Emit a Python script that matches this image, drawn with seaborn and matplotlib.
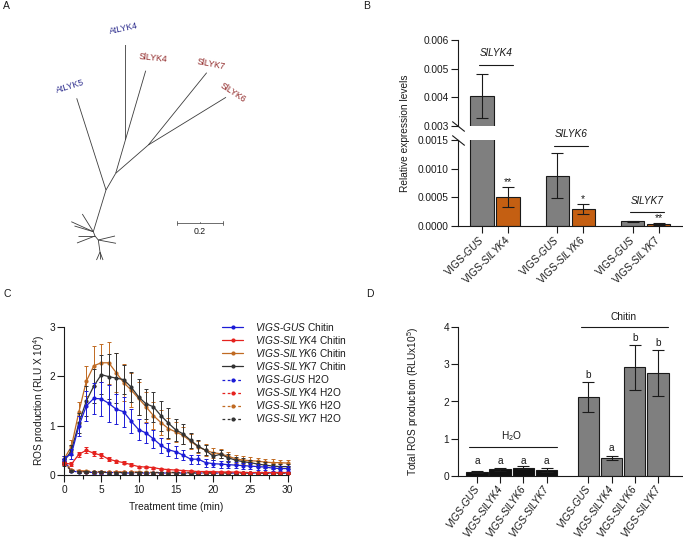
import numpy as np
import pandas as pd
import matplotlib
matplotlib.use("Agg")
import matplotlib.pyplot as plt
from matplotlib.lines import Line2D
from matplotlib.collections import LineCollection
from matplotlib.ticker import FixedLocator, MultipleLocator, StrMethodFormatter
import seaborn as sns

# ---------------- DATA ----------------
# Panel A: unrooted tree (node coordinates in panel pixels) and labels
tree_nodes = {
    'AtLYK4': (125.6, 45), 'SlLYK4': (145.7, 70.7), 'n1': (125.4, 140), 'n2': (115.7, 173.3),
    'SlLYK7': (206.7, 72.7), 'SlLYK6': (226.0, 97.3), 'n3': (148.3, 145),
    'AtLYK5': (76.7, 98.3), 'n4': (106.0, 190), 'n5': (93.3, 231.7),
    'o1': (82.3, 214), 'o2': (71.3, 221.7), 'o3': (74.5, 226), 'n6': (95.0, 236),
    'o4': (78.0, 236), 'o5': (77.0, 243), 'n7': (98.3, 240), 'o6': (115.0, 236),
    'o7': (116.0, 243.3), 'n8': (100.0, 252), 'o8': (96.5, 260), 'o9': (103.0, 260), 'o10': (100.0, 259),
}
tree_edges = [('AtLYK4', 'n1'), ('SlLYK4', 'n1'), ('n1', 'n2'), ('SlLYK7', 'n3'), ('SlLYK6', 'n3'),
              ('n3', 'n2'), ('n2', 'n4'), ('AtLYK5', 'n4'), ('n4', 'n5'), ('n5', 'o1'), ('n5', 'o2'),
              ('n5', 'o3'), ('n5', 'n6'), ('n6', 'o4'), ('n6', 'o5'), ('n6', 'n7'), ('n7', 'o6'),
              ('n7', 'o7'), ('n7', 'n8'), ('n8', 'o8'), ('n8', 'o9'), ('n8', 'o10')]
tree_labels = ['AtLYK4', 'AtLYK5', 'SlLYK4', 'SlLYK7', 'SlLYK6']
tree_label_xy = [(123.3, 29), (70, 86), (153.3, 58), (211, 64), (232.7, 92.5)]
tree_label_rot = [12, 17, -6, -11, -33]
scale_value = 0.2
scale_px_per_unit = 227

# Panel B: relative expression
b_ticklabels = [r'VIGS-$\mathit{GUS}$', r'VIGS-$\mathit{SlLYK4}$', r'VIGS-$\mathit{GUS}$',
                r'VIGS-$\mathit{SlLYK6}$', r'VIGS-$\mathit{GUS}$', r'VIGS-$\mathit{SlLYK7}$']
b_kind = ['control', 'silenced', 'control', 'silenced', 'control', 'silenced']
b_values = [0.00405, 0.00051, 0.00088, 0.00030, 0.00008, 0.00003]
b_err = [0.00078, 0.00017, 0.00039, 0.00009, 0.00001, 0.00002]
b_sig = ['', '**', '', '*', '', '**']
b_groups = ['SlLYK4', 'SlLYK6', 'SlLYK7']
b_top_ticks = [0.003, 0.004, 0.005, 0.006]
b_bot_ticks = [0.0, 0.0005, 0.0010, 0.0015]

# Panel C: ROS kinetics
times = list(range(31))
gus_chitin = [0.33, 0.43, 0.99, 1.40, 1.55, 1.54, 1.45, 1.33, 1.28, 1.09, 0.92, 0.85, 0.73, 0.60, 0.51, 0.47,
              0.40, 0.32, 0.32, 0.25, 0.23, 0.22, 0.21, 0.20, 0.19, 0.18, 0.17, 0.16, 0.14, 0.13, 0.13]
gus_chitin_err = [0.05, 0.10, 0.20, 0.30, 0.32, 0.35, 0.38, 0.30, 0.30, 0.25, 0.22, 0.20, 0.18, 0.15, 0.13, 0.12,
                  0.10, 0.09, 0.09, 0.08, 0.07, 0.07, 0.07, 0.06, 0.06, 0.06, 0.06, 0.05, 0.05, 0.05, 0.05]
lyk4_chitin = [0.24, 0.22, 0.42, 0.50, 0.44, 0.40, 0.32, 0.28, 0.25, 0.21, 0.17, 0.16, 0.15, 0.12, 0.11, 0.10,
               0.09, 0.08, 0.07, 0.07, 0.07, 0.06, 0.06, 0.06, 0.05, 0.05, 0.05, 0.05, 0.05, 0.05, 0.05]
lyk4_chitin_err = [0.03, 0.04, 0.05, 0.06, 0.05, 0.05, 0.04, 0.03, 0.03, 0.03, 0.02, 0.02, 0.02, 0.02, 0.02, 0.02,
                   0.02, 0.02, 0.02, 0.02, 0.02, 0.02, 0.02, 0.02, 0.02, 0.02, 0.02, 0.02, 0.02, 0.02, 0.02]
lyk6_chitin = [0.32, 0.58, 1.28, 1.90, 2.21, 2.27, 2.27, 2.07, 1.87, 1.72, 1.55, 1.38, 1.20, 1.06, 0.94, 0.87,
               0.80, 0.68, 0.57, 0.50, 0.45, 0.43, 0.38, 0.33, 0.30, 0.29, 0.28, 0.26, 0.25, 0.25, 0.24]
lyk6_chitin_err = [0.06, 0.12, 0.20, 0.30, 0.40, 0.38, 0.43, 0.40, 0.38, 0.35, 0.33, 0.30, 0.27, 0.25, 0.22, 0.20,
                   0.18, 0.15, 0.12, 0.12, 0.10, 0.09, 0.09, 0.08, 0.08, 0.07, 0.07, 0.07, 0.07, 0.06, 0.06]
lyk7_chitin = [0.27, 0.50, 1.05, 1.50, 1.80, 2.03, 1.99, 1.96, 1.93, 1.78, 1.58, 1.44, 1.38, 1.20, 1.05, 0.91,
               0.83, 0.70, 0.58, 0.50, 0.38, 0.42, 0.35, 0.30, 0.27, 0.25, 0.22, 0.20, 0.18, 0.17, 0.17]
lyk7_chitin_err = [0.05, 0.10, 0.20, 0.30, 0.35, 0.40, 0.45, 0.50, 0.30, 0.30, 0.36, 0.30, 0.30, 0.30, 0.30, 0.22,
                   0.20, 0.15, 0.12, 0.10, 0.08, 0.08, 0.08, 0.07, 0.07, 0.06, 0.06, 0.06, 0.05, 0.05, 0.05]
gus_h2o = [0.30, 0.08, 0.06, 0.06, 0.05, 0.05, 0.05, 0.05, 0.04, 0.04, 0.04, 0.04, 0.04, 0.04, 0.04, 0.04,
           0.04, 0.04, 0.04, 0.04, 0.04, 0.04, 0.04, 0.04, 0.04, 0.04, 0.04, 0.04, 0.04, 0.04, 0.04]
lyk4_h2o = [0.24, 0.10, 0.08, 0.07, 0.07, 0.06, 0.06, 0.06, 0.06, 0.06, 0.05, 0.05, 0.05, 0.05, 0.05, 0.05,
            0.05, 0.05, 0.05, 0.05, 0.05, 0.05, 0.05, 0.05, 0.05, 0.05, 0.04, 0.04, 0.04, 0.04, 0.04]
lyk6_h2o = [0.26, 0.11, 0.09, 0.08, 0.07, 0.07, 0.06, 0.06, 0.06, 0.06, 0.06, 0.06, 0.05, 0.05, 0.05, 0.05,
            0.05, 0.05, 0.05, 0.05, 0.05, 0.05, 0.05, 0.05, 0.05, 0.05, 0.05, 0.05, 0.05, 0.05, 0.05]
lyk7_h2o = [0.22, 0.09, 0.07, 0.06, 0.06, 0.06, 0.05, 0.05, 0.05, 0.05, 0.05, 0.05, 0.05, 0.05, 0.05, 0.05,
            0.05, 0.04, 0.04, 0.04, 0.04, 0.04, 0.04, 0.04, 0.04, 0.04, 0.04, 0.04, 0.04, 0.04, 0.04]
h2o_err = [0.03, 0.02, 0.02, 0.02, 0.02, 0.02, 0.02, 0.02, 0.02, 0.02, 0.02, 0.02, 0.02, 0.02, 0.02, 0.02,
           0.02, 0.02, 0.02, 0.02, 0.02, 0.02, 0.02, 0.02, 0.02, 0.02, 0.02, 0.02, 0.02, 0.02, 0.02]
c_genotypes = ['GUS', 'SlLYK4', 'SlLYK6', 'SlLYK7']

# Panel D: total ROS
d_ticklabels = ['VIGS-GUS', 'VIGS-SlLYK4', 'VIGS-SlLYK6', 'VIGS-SlLYK7'] * 2
d_treatment = ['H2O'] * 4 + ['Chitin'] * 4
d_h2o = [0.10, 0.17, 0.22, 0.16]
d_h2o_err = [0.03, 0.03, 0.03, 0.05]
d_chitin = [2.12, 0.48, 2.92, 2.76]
d_chitin_err = [0.40, 0.06, 0.61, 0.62]
d_letters = ['a', 'a', 'a', 'a', 'b', 'a', 'b', 'b']

# ---------------- STYLE ----------------
sns.set_theme(style="ticks")
ink = '#1a1a1a'
FS = 7.3
plt.rcParams.update({
    'font.family': ['Liberation Sans', 'DejaVu Sans'],
    'mathtext.fontset': 'custom',
    'mathtext.rm': 'Liberation Sans',
    'mathtext.it': 'Liberation Sans:italic',
    'mathtext.bf': 'Liberation Sans:bold',
    'mathtext.sf': 'Liberation Sans',
    'font.size': FS, 'axes.labelsize': FS, 'xtick.labelsize': FS, 'ytick.labelsize': FS,
    'legend.fontsize': FS,
    'axes.linewidth': 0.8, 'axes.edgecolor': ink, 'text.color': ink, 'axes.labelcolor': ink,
    'xtick.color': ink, 'ytick.color': ink,
    'xtick.major.size': 5, 'ytick.major.size': 5, 'xtick.major.width': 0.8, 'ytick.major.width': 0.8,
    'xtick.minor.size': 3, 'xtick.minor.width': 0.8,
    'xtick.major.pad': 2, 'ytick.major.pad': 1.5,
})

W, H = 683, 542
fig = plt.figure(figsize=(W / 100, H / 100), dpi=100)


def add_axes_px(l, t, r, b):
    return fig.add_axes([l / W, 1 - b / H, (r - l) / W, (b - t) / H])


def fxy(x, y):
    return (x / W, 1 - y / H)


# panel letters
for letter, (x, y) in zip('ABCD', [(3, 1), (363, 1), (3, 289), (366, 289)]):
    fig.text(*fxy(x, y), letter, fontsize=7.5, ha='left', va='top')

# ---------------- PANEL A ----------------
axA = add_axes_px(0, 0, 340, 270)
axA.set_xlim(0, 340)
axA.set_ylim(270, 0)
axA.axis('off')
segs = [[tree_nodes[a], tree_nodes[b]] for a, b in tree_edges]
axA.add_collection(LineCollection(segs, colors='#3c3c3c', linewidths=0.6))
for lab, (x, y), rot in zip(tree_labels, tree_label_xy, tree_label_rot):
    col = '#2e2e8e' if lab.startswith('At') else '#8e2424'
    axA.text(x, y, lab, color=col, fontsize=6.3, rotation=rot, ha='center', va='center',
             rotation_mode='anchor')
sx0, sy = 177.3, 222.7
sx1 = sx0 + scale_value * scale_px_per_unit
axA.plot([sx0, sx1], [sy, sy], color='#555555', lw=0.6)
for xx in (sx0, (sx0 + sx1) / 2, sx1):
    axA.plot([xx, xx], [sy - 1.8, sy + 1.8] if xx != (sx0 + sx1) / 2 else [sy - 1, sy],
             color='#555555', lw=0.6)
axA.text((sx0 + sx1) / 2, sy + 4, f'{scale_value}', fontsize=6.3, ha='center', va='top')

# ---------------- PANEL B ----------------
b_pos = []
for g in range(len(b_groups)):
    b_pos += [g * 2.9, g * 2.9 + 1]
df_b = pd.DataFrame({'pos': b_pos, 'value': b_values, 'kind': b_kind})
b_pal = {'control': '#7f7f7f', 'silenced': '#c45f12'}
axBt = add_axes_px(458, 40, 682, 126)
axBb = add_axes_px(458, 140, 682, 226)
for ax in (axBt, axBb):
    sns.barplot(data=df_b, x='pos', y='value', hue='kind', palette=b_pal, native_scale=True,
                dodge=False, width=0.9, saturation=1, edgecolor=ink, linewidth=0.8,
                errorbar=None, legend=False, orient='x', ax=ax)
    ax.errorbar(b_pos, b_values, yerr=b_err, fmt='none', ecolor=ink, elinewidth=0.8,
                capsize=4.5, capthick=0.8, zorder=5)
    ax.set_xlim(-0.92, 7.7)
    ax.set_xlabel('')
    ax.set_ylabel('')
    sns.despine(ax=ax)
axBt.set_ylim(0.003, 0.006)
axBt.spines['bottom'].set_visible(False)
axBt.tick_params(axis='x', bottom=False, labelbottom=False)
axBt.yaxis.set_major_locator(FixedLocator(b_top_ticks))
axBt.yaxis.set_major_formatter(StrMethodFormatter('{x:.3f}'))
axBb.set_ylim(0, 0.0015)
axBb.yaxis.set_major_locator(FixedLocator(b_bot_ticks))
axBb.yaxis.set_major_formatter(StrMethodFormatter('{x:.4f}'))
axBb.set_xticks(b_pos)
axBb.set_xticklabels(b_ticklabels, rotation=45, ha='right', va='center', rotation_mode='anchor')
axBb.tick_params(axis='x', pad=3)
# axis break marks
brk = dict(marker=[(-1, 0.8), (1, -0.8)], markersize=9, linestyle='none', color=ink, mec=ink,
           mew=0.8, clip_on=False)
axBt.plot([0], [0], transform=axBt.transAxes, **brk)
axBb.plot([0], [1], transform=axBb.transAxes, **brk)
fig.text(*fxy(405, 133), 'Relative expression levels', rotation=90, ha='center', va='center')
# group annotations
b_line_y = [(axBt, 0.00513, 0.00555), (axBb, 0.001395, 0.0016), (axBb, 0.000244, 0.000436)]
for g, (ax, ly, ty) in zip(range(3), b_line_y):
    x0, x1 = b_pos[2 * g], b_pos[2 * g + 1]
    ax.plot([x0 - 0.12, x1 + 0.2], [ly, ly], color=ink, lw=0.8, clip_on=False)
    ax.text((x0 + x1) / 2 + 0.04, ty, b_groups[g], fontstyle='italic', ha='center', va='center',
            clip_on=False)
for x, v, e, s in zip(b_pos, b_values, b_err, b_sig):
    if s:
        axBb.text(x, v + e, s, ha='center', va='bottom', fontsize=7.5)

# ---------------- PANEL C ----------------
axC = add_axes_px(64, 326.7, 287.7, 475)
c_colors = {'GUS': '#1c1cd6', 'SlLYK4': '#e5221e', 'SlLYK6': '#c06a22', 'SlLYK7': '#333333'}
chitin_vals = {'GUS': (gus_chitin, gus_chitin_err), 'SlLYK4': (lyk4_chitin, lyk4_chitin_err),
               'SlLYK6': (lyk6_chitin, lyk6_chitin_err), 'SlLYK7': (lyk7_chitin, lyk7_chitin_err)}
h2o_vals = {'GUS': gus_h2o, 'SlLYK4': lyk4_h2o, 'SlLYK6': lyk6_h2o, 'SlLYK7': lyk7_h2o}
dash = (0, (2.2, 2.0))
for gt in c_genotypes:
    col = c_colors[gt]
    axC.errorbar(times, h2o_vals[gt], yerr=h2o_err, fmt='none', ecolor=col, elinewidth=0.7,
                 capsize=1.5, capthick=0.7, clip_on=False)
    sns.lineplot(x=times, y=h2o_vals[gt], ax=axC, color=col, linestyle=dash, linewidth=0.9,
                 marker='o', markersize=3, markeredgewidth=0, clip_on=False)
for gt in ['SlLYK6', 'SlLYK7', 'GUS', 'SlLYK4']:
    col = c_colors[gt]
    vals, errs = chitin_vals[gt]
    axC.errorbar(times, vals, yerr=errs, fmt='none', ecolor=col, elinewidth=0.7,
                 capsize=1.5, capthick=0.7, clip_on=False)
    sns.lineplot(x=times, y=vals, ax=axC, color=col, linewidth=0.9, marker='o', markersize=3,
                 markeredgewidth=0, clip_on=False)
axC.set_xlim(0, 30)
axC.set_ylim(0, 3)
axC.xaxis.set_major_locator(MultipleLocator(5))
axC.xaxis.set_minor_locator(MultipleLocator(2.5))
axC.yaxis.set_major_locator(MultipleLocator(1))
axC.set_xlabel('Treatment time (min)', labelpad=5)
axC.set_ylabel(r'ROS production (RLU X 10$^4$)')
axC.yaxis.set_label_coords(-0.075, 0.5)
sns.despine(ax=axC)
handles, labels = [], []
for treat, ls in [('Chitin', '-'), ('H2O', dash)]:
    for gt in c_genotypes:
        handles.append(Line2D([], [], color=c_colors[gt], linestyle=ls, linewidth=0.9, marker='o',
                              markersize=3, markeredgewidth=0))
        labels.append(r'$\mathit{VIGS}$-$\mathit{' + gt + '}$ ' + treat)
fig.legend(handles, labels, loc='upper left', bbox_to_anchor=fxy(222, 321), frameon=False,
           borderpad=0, borderaxespad=0, handlelength=2.1, handletextpad=1.2, labelspacing=0.1)

# ---------------- PANEL D ----------------
d_pos = [0, 1, 2, 3, 4.8, 5.8, 6.8, 7.8]
d_values = d_h2o + d_chitin
d_err = d_h2o_err + d_chitin_err
df_d = pd.DataFrame({'pos': d_pos, 'value': d_values, 'treatment': d_treatment})
axD = add_axes_px(458, 327.3, 682, 475.7)
sns.barplot(data=df_d, x='pos', y='value', hue='treatment',
            palette={'H2O': '#101010', 'Chitin': '#7f7f7f'}, native_scale=True, dodge=False,
            width=0.93, saturation=1, edgecolor=ink, linewidth=0.8, errorbar=None, legend=False,
            orient='x', ax=axD)
axD.errorbar(d_pos, d_values, yerr=d_err, fmt='none', ecolor=ink, elinewidth=0.8, capsize=4.5,
             capthick=0.8, zorder=5)
axD.set_xlim(-0.82, 8.84)
axD.set_ylim(0, 4)
axD.yaxis.set_major_locator(MultipleLocator(1))
axD.set_xticks(d_pos)
axD.set_xticklabels(d_ticklabels, rotation=55, ha='right', va='center', rotation_mode='anchor',
                    fontstyle='italic')
axD.tick_params(axis='x', pad=3)
axD.set_xlabel('')
axD.set_ylabel(r'Total ROS production (RLUx10$^5$)')
axD.yaxis.set_label_coords(-0.165, 0.5)
sns.despine(ax=axD)
h2o_top = max(v + e for v, e in zip(d_h2o, d_h2o_err))
for i, (x, v, e, let) in enumerate(zip(d_pos, d_values, d_err, d_letters)):
    y = h2o_top + 0.01 if i < 4 else v + e + 0.06
    axD.text(x, y, let, ha='center', va='bottom')
axD.plot([-0.35, 3.45], [0.77, 0.77], color=ink, lw=0.8)
axD.text(1.5, 1.08, r'H$_2$O', ha='center', va='center')
axD.plot([4.48, 8.23], [4.0, 4.0], color=ink, lw=0.8, clip_on=False)
axD.text(6.3, 4.28, 'Chitin', ha='center', va='center', clip_on=False)

fig.savefig('out.png', dpi=100)
